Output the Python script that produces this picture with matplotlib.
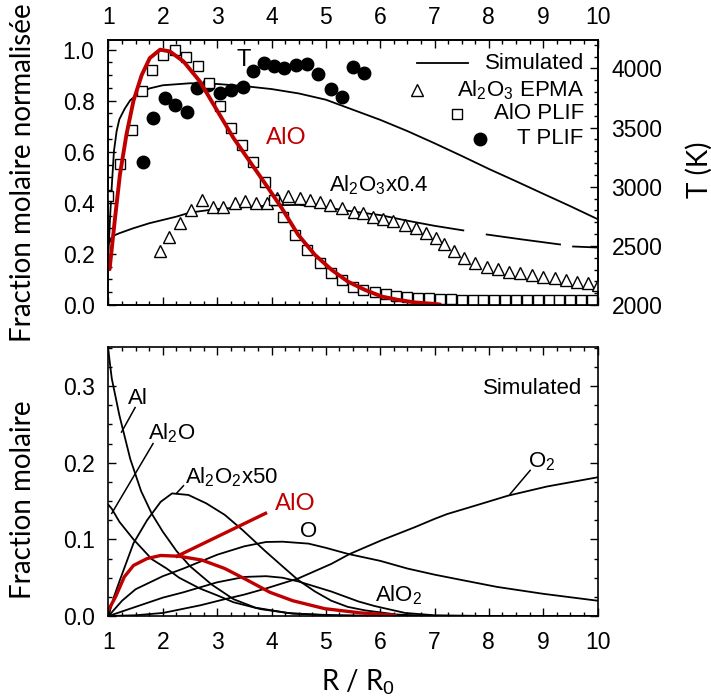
import matplotlib
matplotlib.use("Agg")
import matplotlib.pyplot as plt
from matplotlib.ticker import MultipleLocator

# ==============================================================================
# DONNÉES
# ==============================================================================
# --- panneau du haut ---
t_sim_x = [1.0, 1.03, 1.06, 1.1, 1.15, 1.2, 1.3, 1.4, 1.5, 1.75, 2.0, 2.5, 3.0,
           3.5, 4.0, 4.5, 5.0, 5.5, 6.0, 6.5, 7.0, 7.5, 8.0, 8.5, 9.0, 9.5, 10.0]
t_sim_T = [2450, 2750, 3000, 3300, 3470, 3570, 3660, 3730, 3770, 3830, 3857, 3874,
           3868, 3850, 3825, 3788, 3735, 3650, 3565, 3470, 3367, 3260, 3150, 3046,
           2940, 2835, 2726]

t_plif_x = [1.635, 1.82, 2.04, 2.22, 2.445, 2.63, 2.83, 3.05, 3.25, 3.475, 3.66,
            3.86, 4.05, 4.23, 4.45, 4.65, 4.86, 5.1, 5.3, 5.5, 5.7]
t_plif_T = [3207, 3578, 3747, 3688, 3629, 3831, 3857, 3789, 3815, 3840, 3975,
            4042, 4017, 4000, 4026, 4034, 3950, 3823, 3756, 4009, 3958]

alo_plif_x = [1.0, 1.21, 1.43, 1.61, 1.80, 2.00, 2.22, 2.43, 2.65, 2.85, 3.06, 3.26,
              3.46, 3.66, 3.88, 4.05, 4.22, 4.43, 4.65, 4.89, 5.10, 5.29, 5.50, 5.69,
              5.90, 6.10, 6.30, 6.50, 6.70, 6.90, 7.10, 7.30, 7.50, 7.70, 7.90, 8.10,
              8.30, 8.50, 8.70, 8.90, 9.10, 9.30, 9.50, 9.70, 9.90]
alo_plif_y = [0.427, 0.553, 0.686, 0.84, 0.92, 0.98, 1.0, 0.97, 0.935, 0.87, 0.778,
              0.693, 0.627, 0.56, 0.48, 0.41, 0.346, 0.275, 0.216, 0.164, 0.124,
              0.098, 0.072, 0.059, 0.052, 0.044, 0.036, 0.031, 0.028, 0.026, 0.024,
              0.022, 0.021, 0.02, 0.02, 0.019, 0.019, 0.019, 0.018, 0.018, 0.018,
              0.018, 0.018, 0.018, 0.018]

epma_x = [1.94, 2.12, 2.32, 2.51, 2.72, 2.92, 3.11, 3.32, 3.51, 3.71, 3.91, 4.10,
          4.31, 4.52, 4.71, 4.89, 5.08, 5.29, 5.51, 5.69, 5.87, 6.06, 6.24, 6.46,
          6.66, 6.85, 7.02, 7.18, 7.36, 7.54, 7.75, 7.96, 8.17, 8.37, 8.57, 8.79,
          9.00, 9.21, 9.42, 9.62, 9.82, 10.0]
epma_y = [0.212, 0.268, 0.32, 0.373, 0.412, 0.385, 0.382, 0.399, 0.408, 0.399, 0.399,
          0.418, 0.425, 0.418, 0.412, 0.405, 0.392, 0.379, 0.366, 0.36, 0.345, 0.338,
          0.33, 0.315, 0.30, 0.28, 0.262, 0.237, 0.21, 0.185, 0.165, 0.150, 0.139,
          0.131, 0.124, 0.118, 0.111, 0.105, 0.098, 0.091, 0.085, 0.078]

al2o3_sim_x = [1.0, 1.05, 1.1, 1.2, 1.45, 1.75, 2.0, 2.25, 2.5, 3.0, 3.5, 4.0, 4.5,
               5.0, 5.5, 6.0, 6.5, 7.0, 7.53]
al2o3_sim_y = [0.24, 0.262, 0.272, 0.281, 0.30, 0.32, 0.333, 0.346, 0.362, 0.376,
               0.383, 0.39, 0.392, 0.382, 0.366, 0.352, 0.330, 0.310, 0.292]
al2o3_dash1_x = [7.96, 8.6, 9.31]
al2o3_dash1_y = [0.276, 0.257, 0.237]
al2o3_dash2_x = [9.55, 10.0]
al2o3_dash2_y = [0.229, 0.225]

alo_haut_x = [1.02, 1.05, 1.12, 1.21, 1.33, 1.46, 1.61, 1.76, 1.95, 2.13, 2.38, 2.68,
              2.99, 3.3, 3.6, 3.9, 4.19, 4.49, 4.8, 5.11, 5.41, 5.72, 6.03, 6.33,
              6.64, 7.01, 7.1]
alo_haut_y = [0.14, 0.2, 0.34, 0.51, 0.667, 0.80, 0.90, 0.967, 1.0, 0.993, 0.954,
              0.876, 0.765, 0.654, 0.562, 0.47, 0.379, 0.275, 0.196, 0.137, 0.091,
              0.059, 0.033, 0.02, 0.01, 0.004, 0.002]

# --- panneau du bas (simulation) ---
al_x = [1.0, 1.06, 1.2, 1.4, 1.6, 1.8, 2.0, 2.25, 2.5, 2.9, 3.3, 3.7, 4.3, 5.0, 6.0, 10.0]
al_y = [0.345, 0.31, 0.262, 0.205, 0.163, 0.133, 0.11, 0.085, 0.065, 0.041, 0.022,
        0.011, 0.004, 0.001, 0.0, 0.0]

al2o_x = [1.0, 1.06, 1.2, 1.46, 1.8, 2.07, 2.3, 2.68, 3.0, 3.3, 3.8, 4.4, 5.2, 6.0, 10.0]
al2o_y = [0.145, 0.14, 0.123, 0.10, 0.074, 0.062, 0.05, 0.036, 0.027, 0.018, 0.009,
          0.003, 0.001, 0.0, 0.0]

al2o2_x = [1.0, 1.1, 1.21, 1.46, 1.71, 1.96, 2.17, 2.47, 2.8, 3.14, 3.47, 3.88, 4.2,
           4.49, 4.8, 5.1, 5.4, 5.72, 6.3, 7.0, 10.0]
al2o2_y = [0.0, 0.025, 0.047, 0.095, 0.125, 0.149, 0.16, 0.158, 0.147, 0.132, 0.112,
           0.085, 0.065, 0.047, 0.032, 0.020, 0.012, 0.0074, 0.002, 0.0, 0.0]

o_x = [1.0, 1.25, 1.5, 2.0, 2.38, 3.0, 3.5, 3.9, 4.2, 4.68, 5.0, 5.41, 6.0, 6.5, 7.0,
       7.5, 8.15, 9.0, 10.0]
o_y = [0.0, 0.02, 0.035, 0.052, 0.062, 0.08, 0.091, 0.0966, 0.097, 0.0945, 0.089,
       0.081, 0.072, 0.062, 0.054, 0.047, 0.038, 0.029, 0.020]

alo2_x = [1.0, 1.5, 2.0, 2.38, 3.0, 3.5, 3.9, 4.2, 4.5, 5.1, 5.6, 5.9, 6.46, 7.0, 8.0, 10.0]
alo2_y = [0.0, 0.012, 0.024, 0.031, 0.044, 0.051, 0.052, 0.05, 0.045, 0.032, 0.019,
          0.013, 0.004, 0.001, 0.0, 0.0]

o2_x = [1.0, 1.5, 2.0, 2.69, 3.14, 3.5, 3.9, 4.49, 5.1, 5.44, 6.03, 6.64, 7.01, 7.23,
        7.84, 8.35, 9.07, 10.0]
o2_y = [0.0, 0.001, 0.004, 0.014, 0.022, 0.028, 0.036, 0.049, 0.068, 0.081, 0.099,
        0.116, 0.127, 0.133, 0.146, 0.157, 0.169, 0.181]

alo_bas_x = [1.0, 1.03, 1.13, 1.29, 1.46, 1.71, 1.96, 2.3, 2.72, 3.14, 3.55, 3.97,
             4.39, 4.98, 5.65, 6.28]
alo_bas_y = [0.008, 0.012, 0.025, 0.051, 0.066, 0.075, 0.079, 0.078, 0.073, 0.062,
             0.047, 0.031, 0.020, 0.0096, 0.004, 0.001]

ROUGE = "#C00000"
NOIR = "black"

# ==============================================================================
# STYLE
# ==============================================================================
plt.rcParams["font.family"] = ["Liberation Sans", "DejaVu Sans"]
plt.rcParams["mathtext.fontset"] = "custom"
plt.rcParams["mathtext.rm"] = "Liberation Sans"
plt.rcParams["mathtext.it"] = "Liberation Sans:italic"
plt.rcParams["mathtext.bf"] = "Liberation Sans:bold"
plt.rcParams["axes.linewidth"] = 1.2

FS_TICK = 16.5
FS_TXT = 16
FS_LAB = 20
LAB_FONT = ["Lato", "DejaVu Sans"]
LW = 1.3


def style_ticks(ax, **kw):
    ax.tick_params(which="both", direction="in", width=1.0, labelsize=FS_TICK, **kw)
    ax.tick_params(which="major", length=6)
    ax.tick_params(which="minor", length=3)


fig = plt.figure(figsize=(7.11, 6.96), dpi=100)

# ------------------------------------------------------------------------------
# Panneau du haut
# ------------------------------------------------------------------------------
ax1 = fig.add_axes([0.1526, 0.5611, 0.6878, 0.3815])
axT = ax1.twinx()
ax1.set_zorder(axT.get_zorder() + 1)
ax1.patch.set_visible(False)

axT.plot(t_sim_x, t_sim_T, color=NOIR, linewidth=LW)
axT.plot(t_plif_x, t_plif_T, "o", color=NOIR, markersize=9, linestyle="none")

ax1.plot(al2o3_sim_x, al2o3_sim_y, color=NOIR, linewidth=LW)
ax1.plot(al2o3_dash1_x, al2o3_dash1_y, color=NOIR, linewidth=LW)
ax1.plot(al2o3_dash2_x, al2o3_dash2_y, color=NOIR, linewidth=LW)
ax1.plot(epma_x, epma_y, "^", markerfacecolor="white", markeredgecolor=NOIR,
         markersize=9, markeredgewidth=1.0, linestyle="none")
ax1.plot(alo_plif_x, alo_plif_y, "s", markerfacecolor="white", markeredgecolor=NOIR,
         markersize=7.8, markeredgewidth=1.0, linestyle="none")
ax1.plot(alo_haut_x, alo_haut_y, color=ROUGE, linewidth=2.8, solid_capstyle="round")

ax1.set_xlim(1, 10)
ax1.set_ylim(-0.002, 1.038)
axT.set_ylim(1996, 4240)

ax1.xaxis.set_major_locator(MultipleLocator(1))
ax1.xaxis.set_minor_locator(MultipleLocator(0.25))
ax1.yaxis.set_major_locator(MultipleLocator(0.2))
ax1.yaxis.set_minor_locator(MultipleLocator(0.05))
ax1.yaxis.set_major_formatter(matplotlib.ticker.FormatStrFormatter("%.1f"))
axT.yaxis.set_major_locator(MultipleLocator(500))
axT.yaxis.set_minor_locator(MultipleLocator(100))

style_ticks(ax1, top=True, bottom=True, left=True, right=False,
            labeltop=True, labelbottom=False, pad=8)
ax1.tick_params(axis="y", pad=10)
style_ticks(axT, right=True, left=False, labelright=True, pad=10)

ax1.set_ylabel("Fraction molaire normalisée", fontsize=FS_LAB, family=LAB_FONT)
ax1.yaxis.set_label_coords(-0.148, 0.5)
axT.set_ylabel("T (K)", fontsize=FS_LAB, family=LAB_FONT)
axT.yaxis.set_label_coords(1.18, 0.51)

# annotations du haut
ax1.text(3.48, 0.96, "T", fontsize=17, ha="center", va="center")
ax1.text(4.28, 0.657, "AlO", fontsize=17, color=ROUGE, ha="center", va="center",
         family=LAB_FONT)
ax1.text(5.98, 0.47, "Al$_2$O$_3$x0.4", fontsize=FS_TXT, ha="center", va="center")

# légende (texte aligné à droite comme sur l'original)
leg_y = [0.913, 0.811, 0.722, 0.627]
leg_txt = ["Simulated", "Al$_2$O$_3$ EPMA", "AlO PLIF", "T PLIF"]
for yy, tt in zip(leg_y, leg_txt):
    ax1.text(0.972, yy, tt, transform=ax1.transAxes, fontsize=FS_TXT,
             ha="right", va="center")
ax1.plot([0.63, 0.735], [leg_y[0], leg_y[0]], color=NOIR, linewidth=LW,
         transform=ax1.transAxes)
ax1.plot([0.631], [leg_y[1]], "^", markerfacecolor="white", markeredgecolor=NOIR,
         markersize=9, markeredgewidth=1.0, transform=ax1.transAxes)
ax1.plot([0.713], [leg_y[2]], "s", markerfacecolor="white", markeredgecolor=NOIR,
         markersize=7.8, markeredgewidth=1.0, transform=ax1.transAxes)
ax1.plot([0.760], [leg_y[3]], "o", color=NOIR, markersize=9,
         transform=ax1.transAxes)

# ------------------------------------------------------------------------------
# Panneau du bas
# ------------------------------------------------------------------------------
ax2 = fig.add_axes([0.1526, 0.1149, 0.6878, 0.3865])

for xs, ys in [(al_x, al_y), (al2o_x, al2o_y), (al2o2_x, al2o2_y), (o_x, o_y),
               (alo2_x, alo2_y), (o2_x, o2_y)]:
    ax2.plot(xs, ys, color=NOIR, linewidth=LW)
ax2.plot(alo_bas_x, alo_bas_y, color=ROUGE, linewidth=2.4, solid_capstyle="round")

ax2.set_xlim(1, 10)
ax2.set_ylim(0, 0.351)
ax2.xaxis.set_major_locator(MultipleLocator(1))
ax2.xaxis.set_minor_locator(MultipleLocator(0.25))
ax2.yaxis.set_major_locator(MultipleLocator(0.1))
ax2.yaxis.set_minor_locator(MultipleLocator(0.025))
ax2.yaxis.set_major_formatter(matplotlib.ticker.FormatStrFormatter("%.1f"))
style_ticks(ax2, top=True, bottom=True, left=True, right=True, pad=11)
ax2.tick_params(axis="y", pad=10)

ax2.set_ylabel("Fraction molaire", fontsize=FS_LAB, family=LAB_FONT)
ax2.yaxis.set_label_coords(-0.148, 0.433)
ax2.set_xlabel("R / R$_0$", fontsize=FS_LAB, family=LAB_FONT)
ax2.xaxis.set_label_coords(0.51, -0.19)

# étiquettes des espèces + traits de rappel
ax2.text(1.55, 0.284, "Al", fontsize=FS_TXT, ha="center", va="center")
ax2.plot([1.49, 1.24], [0.272, 0.240], color=NOIR, linewidth=1.1)
ax2.text(2.16, 0.238, "Al$_2$O", fontsize=FS_TXT, ha="center", va="center")
ax2.plot([1.82, 1.06], [0.225, 0.134], color=NOIR, linewidth=1.1)
ax2.text(3.27, 0.181, "Al$_2$O$_2$x50", fontsize=FS_TXT, ha="center", va="center")
ax2.plot([2.38, 2.25], [0.170, 0.160], color=NOIR, linewidth=1.1)
ax2.text(4.68, 0.11, "O", fontsize=FS_TXT, ha="center", va="center")
ax2.text(6.33, 0.027, "AlO$_2$", fontsize=FS_TXT, ha="center", va="center")
ax2.text(8.98, 0.201, "O$_2$", fontsize=FS_TXT, ha="center", va="center")
ax2.plot([8.76, 8.39], [0.19, 0.159], color=NOIR, linewidth=1.1)
ax2.text(4.43, 0.147, "AlO", fontsize=17, color=ROUGE, ha="center", va="center",
         family=LAB_FONT)
ax2.plot([2.26, 3.89], [0.078, 0.134], color=ROUGE, linewidth=2.4)
ax2.text(9.71, 0.297, "Simulated", fontsize=FS_TXT, ha="right", va="center")

fig.savefig("out.png", dpi=100)
